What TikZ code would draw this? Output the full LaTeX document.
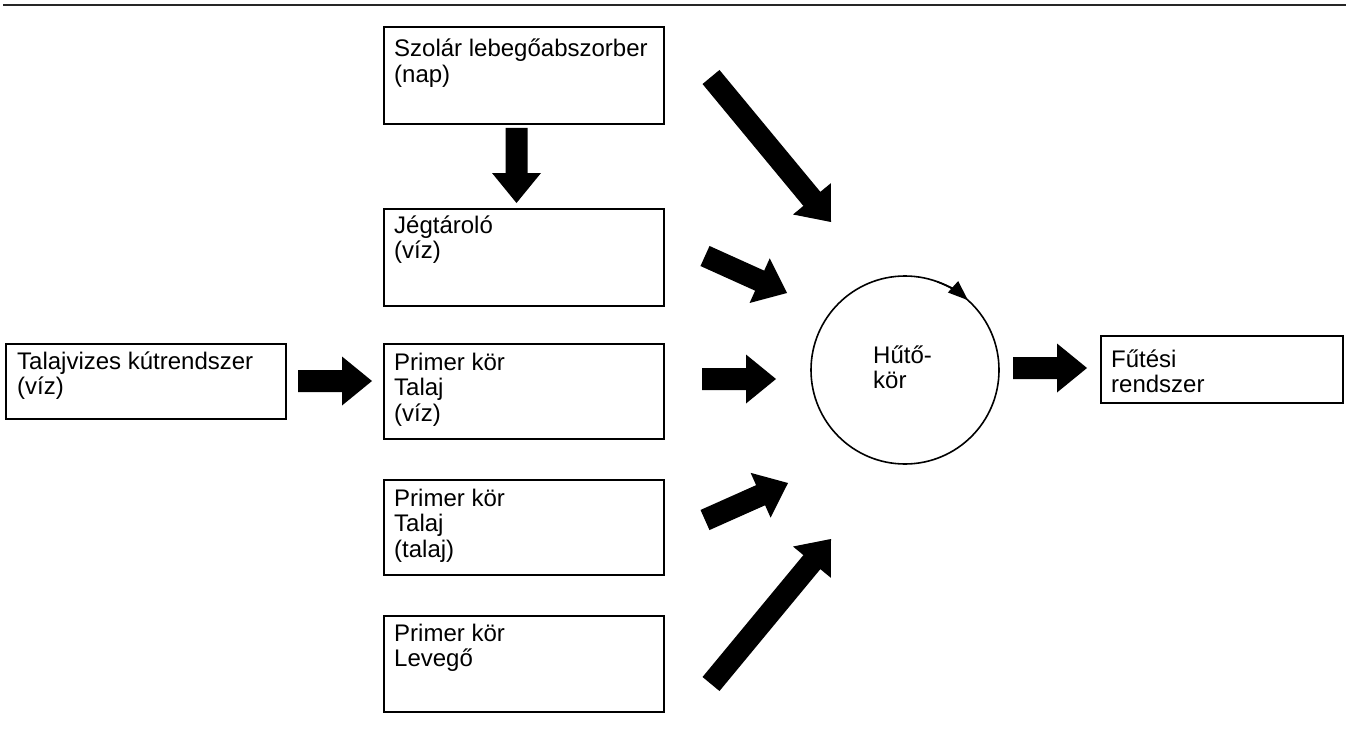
\documentclass[tikz,border=0pt]{standalone}
\usepackage{fontspec}
\setmainfont{Liberation Sans}
\usetikzlibrary{calc,arrows.meta}
\newcommand{\lines}[1]{\begin{tabular}[t]{@{}l@{}}#1\end{tabular}}
\tikzset{
  box/.style={draw, line width=1.6pt, anchor=north west, inner sep=0pt, minimum width=280pt},
  lbl/.style={anchor=base west, inner sep=0pt, font=\fontsize{24}{25.5}\selectfont},
  ring/.style={draw, circle, line width=1.6pt, minimum size=188pt, inner sep=0pt},
}
\newcommand{\blkarrow}[2]{%
  \coordinate (bh) at ($(#2)!30pt!(#1)$);
  \fill[black] ($(#1)!11pt!90:(#2)$) -- ($(bh)!11pt!-90:(#1)$) -- ($(bh)!24.5pt!-90:(#1)$) -- (#2)
    -- ($(bh)!24.5pt!90:(#1)$) -- ($(bh)!11pt!90:(#1)$) -- ($(#1)!11pt!-90:(#2)$) -- cycle;
}
\begin{document}
\begin{tikzpicture}[x=1pt,y=-1pt]
\useasboundingbox (0,0) rectangle (1349,733);
% top rule
\coordinate (rl) at (3,5);
\coordinate (rr) at (1346,5);
\draw[line width=2.8pt, black!85] (rl) -- (rr);
% boxes
\node[box, minimum height=97pt] (szolar) at (383,26) {};
\node[box, minimum height=97pt] (jeg) at (383,208) {};
\node[box, minimum height=95pt] (pviz) at (383,343) {};
\node[box, minimum height=95pt] (ptal) at (383,479) {};
\node[box, minimum height=96pt] (lev) at (383,615) {};
\node[box, minimum height=75pt] (talv) at (5,343) {};
\node[box, minimum height=67pt, minimum width=242pt] (fut) at (1100,335) {};
\node[ring] (hk) at (905,370) {};
% labels
\node[lbl] (t1) at (394,57) {\lines{Szolár lebegőabszorber\\(nap)}};
\node[lbl] (t2) at (394,233) {\lines{Jégtároló\\(víz)}};
\node[lbl] (t3) at (394,370) {\lines{Primer kör\\Talaj\\(víz)}};
\node[lbl] (t4) at (394,506) {\lines{Primer kör\\Talaj\\(talaj)}};
\node[lbl] (t5) at (394,641) {\lines{Primer kör\\Levegő}};
\node[lbl] (t6) at (17,369) {\lines{Talajvizes kútrendszer\\(víz)}};
\node[lbl] (t7) at (1111,367) {\lines{Fűtési\\rendszer}};
\node[lbl] (t8) at (873,363) {\lines{Hűtő-\\kör}};
% circulation arrow on the ring
\draw[line width=1.6pt, -{Triangle[length=20pt,width=15pt]}] ($(hk)+(-70:94)$) arc[start angle=-70, end angle=-48, radius=94];
% block arrow end points
\coordinate (a1s) at (516.5,128); \coordinate (a1e) at (516.5,203);
\coordinate (a2s) at (298,381);   \coordinate (a2e) at (372,381);
\coordinate (a3s) at (702,379);   \coordinate (a3e) at (776,379);
\coordinate (a4s) at (705,256);   \coordinate (a4e) at (787,293);
\coordinate (a5s) at (711,77);    \coordinate (a5e) at (831,222);
\coordinate (a6s) at (705,520);   \coordinate (a6e) at (788,483);
\coordinate (a7s) at (711,684);   \coordinate (a7e) at (831,539);
\coordinate (a8s) at (1013,368);  \coordinate (a8e) at (1087,368);
\blkarrow{a1s}{a1e}
\blkarrow{a2s}{a2e}
\blkarrow{a3s}{a3e}
\blkarrow{a4s}{a4e}
\blkarrow{a5s}{a5e}
\blkarrow{a6s}{a6e}
\blkarrow{a7s}{a7e}
\blkarrow{a8s}{a8e}
\end{tikzpicture}
\end{document}
